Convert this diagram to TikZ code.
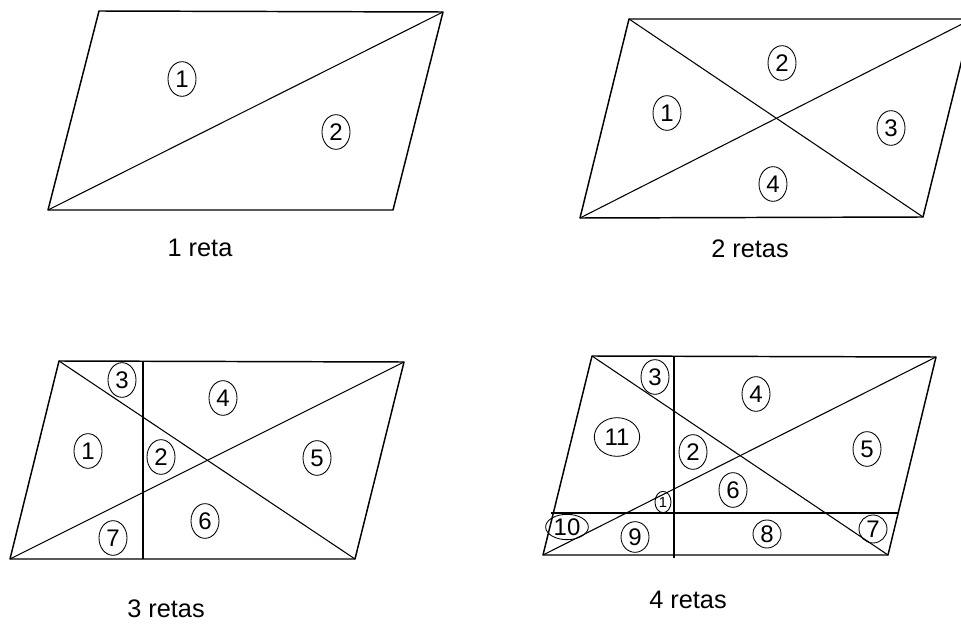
\documentclass[tikz,border=0pt]{standalone}
\usepackage{fontspec}
\setmainfont{Liberation Sans}
\usetikzlibrary{shapes.geometric}
\begin{document}
\begin{tikzpicture}[x=0.75pt,y=-0.75pt,
  edgeline/.style={line width=1.1pt, line join=round},
  diagline/.style={line width=0.8pt},
  reg/.style={ellipse, draw, line width=0.65pt, inner sep=0pt,
    minimum width=21pt, minimum height=26pt, font=\fontsize{18}{18}\selectfont},
  captext/.style={font=\fontsize{19}{19}\selectfont}]
\useasboundingbox (0,0) rectangle (961,624);
\clip (0,0) rectangle (961,624);
% ---------- panel 1 ----------
\coordinate (a1) at (99,11);
\coordinate (b1) at (443,12);
\coordinate (c1) at (393,210);
\coordinate (d1) at (48,210);
\draw[edgeline] (a1)--(b1)--(c1)--(d1)--cycle;
\draw[diagline] (d1)--(b1);
\node[reg] (p1r1) at (182,79) {1};
\node[reg] (p1r2) at (336,132) {2};
\node[captext] (p1cap) at (200,248) {1 reta};
% ---------- panel 2 ----------
\coordinate (a2) at (629,19);
\coordinate (b2) at (972,19);
\coordinate (c2) at (923,217);
\coordinate (d2) at (580,218);
\draw[edgeline] (a2)--(b2)--(c2)--(d2)--cycle;
\draw[diagline] (d2)--(b2);
\draw[diagline] (a2)--(c2);
\node[reg] (p2r1) at (667,113) {1};
\node[reg] (p2r2) at (782,63) {2};
\node[reg] (p2r3) at (891,128) {3};
\node[reg] (p2r4) at (773,184) {4};
\node[captext] (p2cap) at (750,249) {2 retas};
% ---------- panel 3 ----------
\coordinate (a3) at (59,361);
\coordinate (b3) at (404,362);
\coordinate (c3) at (355,559);
\coordinate (d3) at (10,559);
\coordinate (v3t) at (143,361);
\coordinate (v3b) at (143,559);
\draw[edgeline] (a3)--(b3)--(c3)--(d3)--cycle;
\draw[diagline] (d3)--(b3);
\draw[diagline] (a3)--(c3);
\draw[edgeline] (v3t)--(v3b);
\node[reg] (p3r3) at (122,380) {3};
\node[reg] (p3r4) at (223,398) {4};
\node[reg] (p3r1) at (88,451) {1};
\node[reg] (p3r2) at (161,457) {2};
\node[reg] (p3r5) at (317,458) {5};
\node[reg] (p3r6) at (205,521) {6};
\node[reg] (p3r7) at (113,538) {7};
\node[captext] (p3cap) at (166,609) {3 retas};
% ---------- panel 4 ----------
\coordinate (a4) at (592,356);
\coordinate (b4) at (936,357);
\coordinate (c4) at (888,555);
\coordinate (d4) at (543,555);
\coordinate (v4t) at (674,356);
\coordinate (v4b) at (674,558);
\coordinate (h4l) at (551,513);
\coordinate (h4r) at (899,513);
\draw[edgeline] (a4)--(b4)--(c4)--(d4)--cycle;
\draw[diagline] (d4)--(b4);
\draw[diagline] (a4)--(c4);
\draw[edgeline] (v4t)--(v4b);
\draw[edgeline] (h4l)--(h4r);
\node[reg] (p4r3) at (655,377) {3};
\node[reg] (p4r4) at (756,394) {4};
\node[reg, minimum width=34pt, minimum height=29pt] (p4r11) at (617,437) {11};
\node[reg] (p4r2) at (693,452) {2};
\node[reg] (p4r5) at (867,449) {5};
\node[reg] (p4r6) at (733,490) {6};
\node[reg, minimum width=12pt, minimum height=16pt, font=\fontsize{11}{11}\selectfont] (p4r1) at (663,502) {1};
\node[reg, minimum width=32pt, minimum height=19pt] (p4r10) at (567,527) {10};
\node[reg, minimum height=23pt] (p4r9) at (635,537) {9};
\node[reg, minimum height=21pt] (p4r8) at (767,534) {8};
\node[reg, minimum height=21pt] (p4r7) at (873,529) {7};
\node[captext] (p4cap) at (688,600) {4 retas};
\end{tikzpicture}
\end{document}
